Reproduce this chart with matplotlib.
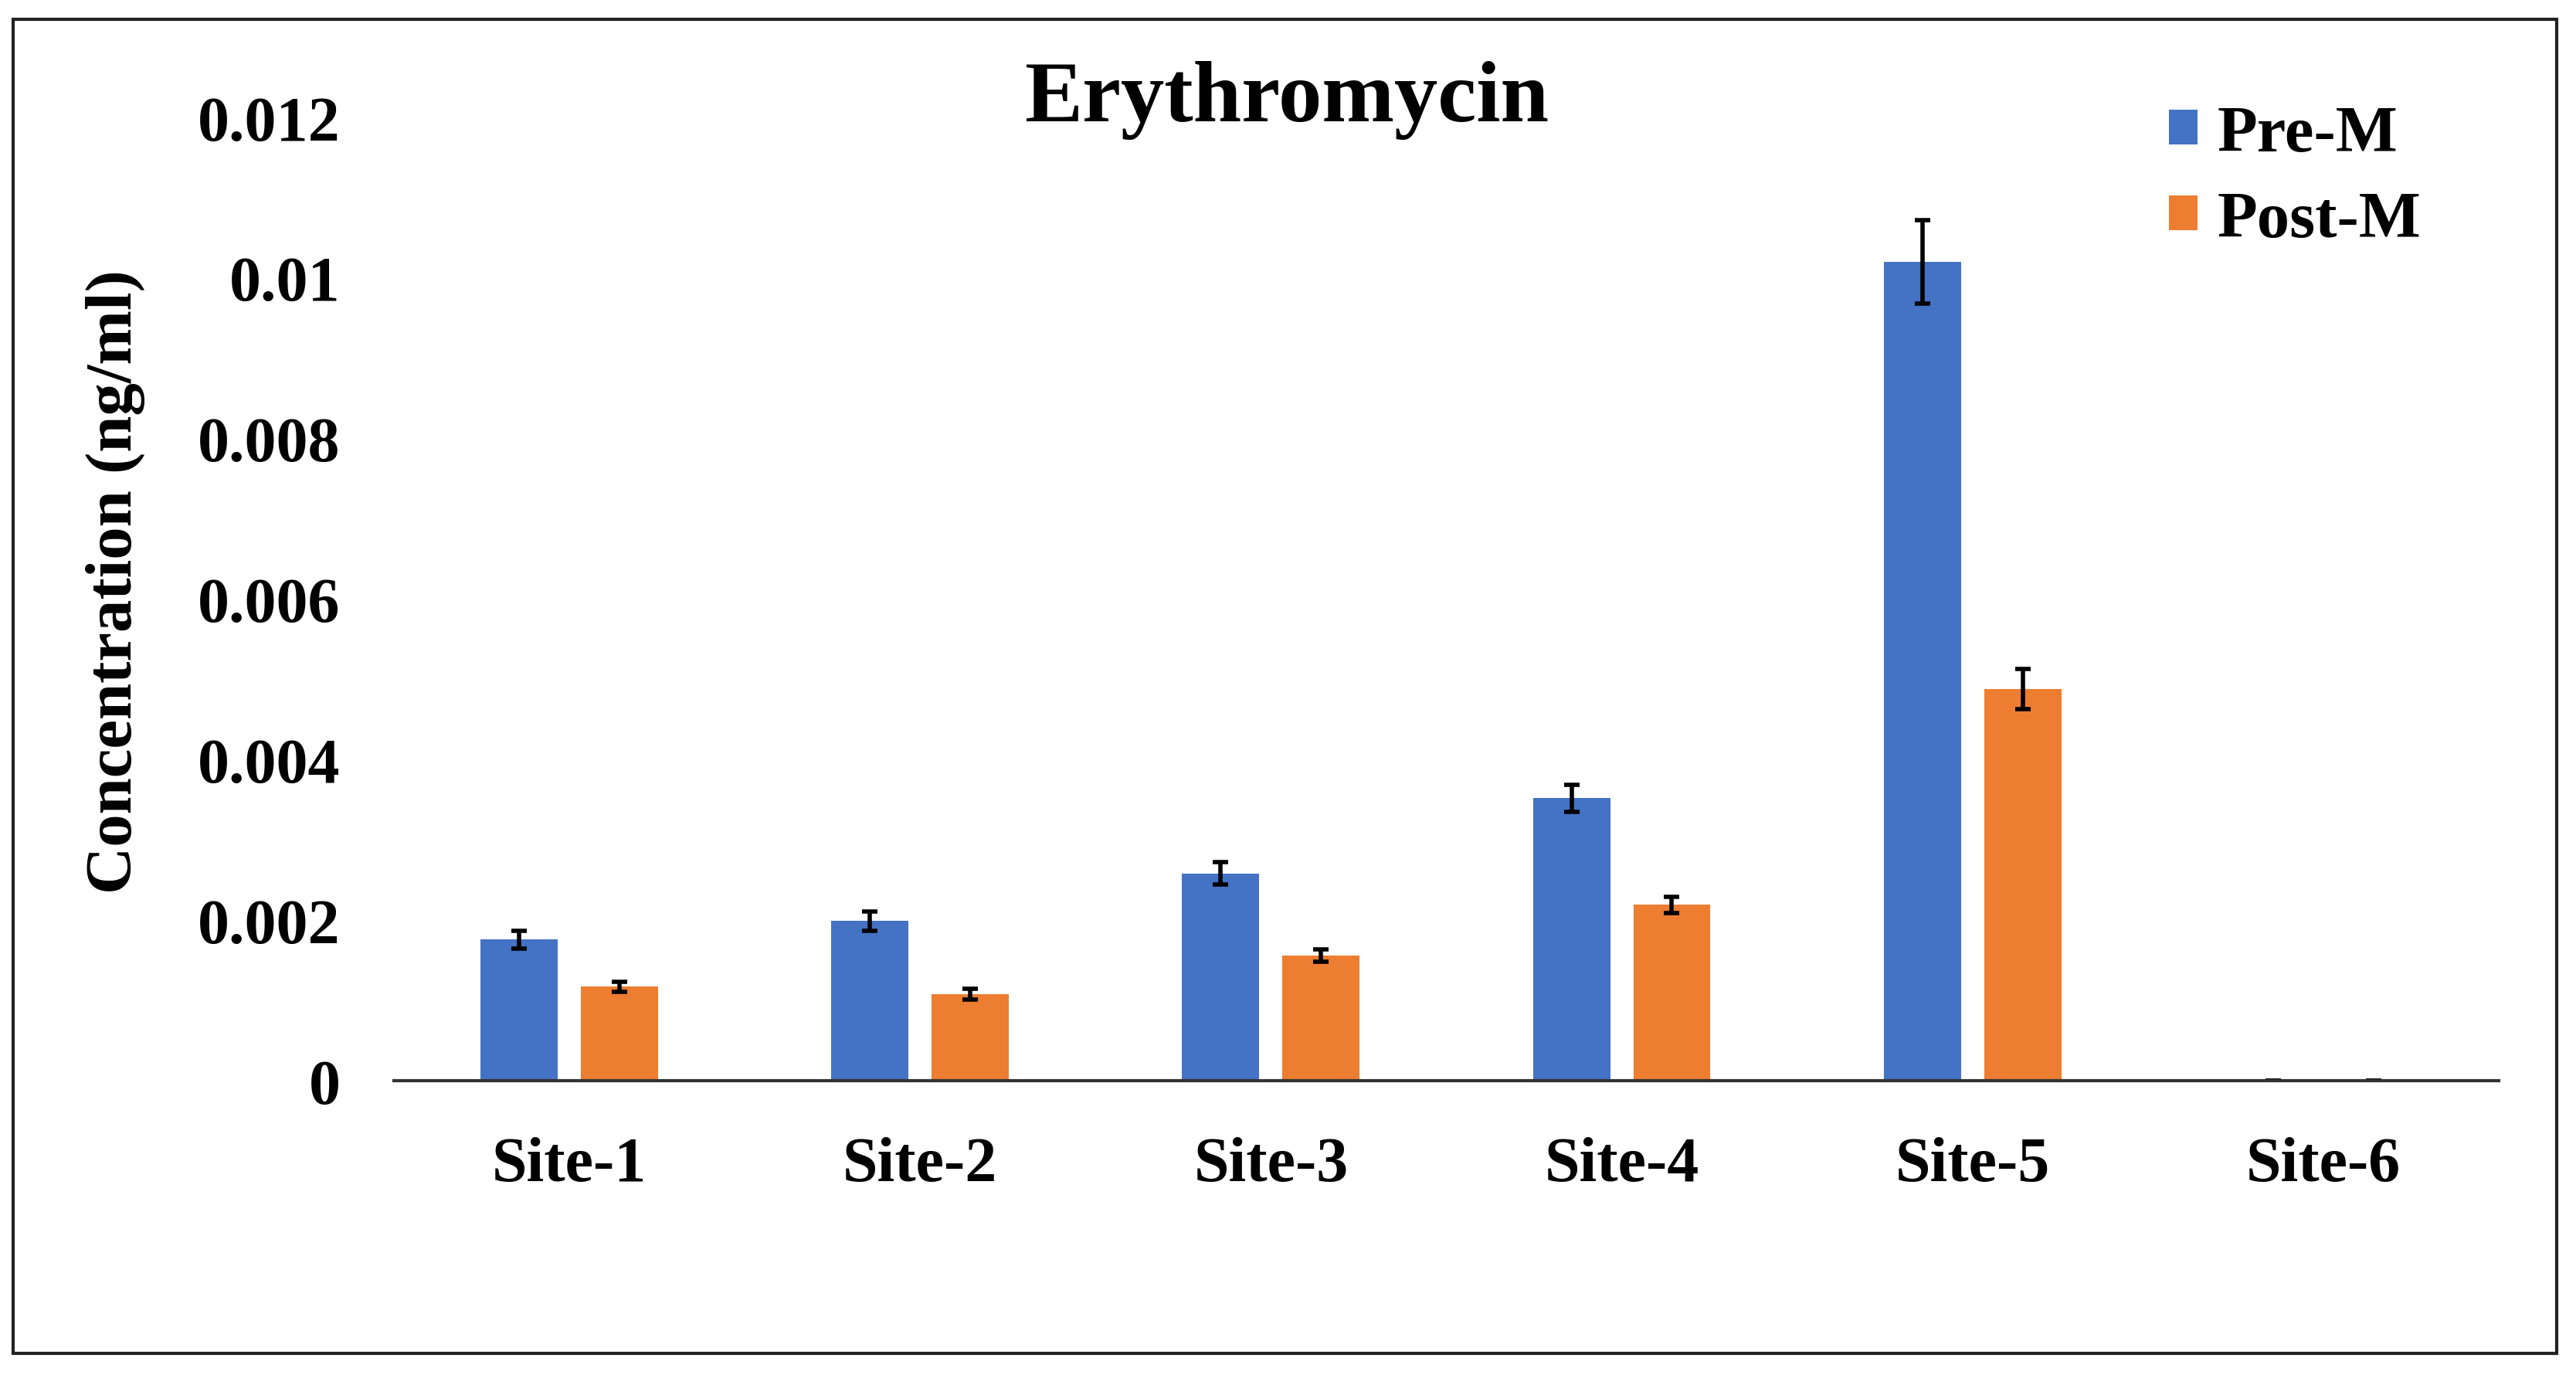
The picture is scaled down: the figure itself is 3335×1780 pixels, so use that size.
import numpy as np
import matplotlib.pyplot as plt
from matplotlib.patches import Rectangle

sites = ['Site-1', 'Site-2', 'Site-3', 'Site-4', 'Site-5', 'Site-6']
pre_m = [0.00176, 0.00199, 0.00258, 0.00352, 0.0102, 0.0]
post_m = [0.00117, 0.00108, 0.00156, 0.00219, 0.00488, 0.0]
pre_err = [0.00011, 0.00012, 0.00014, 0.00017, 0.00052, 0.0]
post_err = [0.00006, 0.00007, 0.00008, 0.00010, 0.00025, 0.0]
yticks = [0, 0.002, 0.004, 0.006, 0.008, 0.01, 0.012]
ytick_labels = ['0', '0.002', '0.004', '0.006', '0.008', '0.01', '0.012']

blue = '#4472C4'
orange = '#ED7D31'

plt.rcParams['font.family'] = ['Liberation Serif', 'DejaVu Serif']
plt.rcParams['font.weight'] = 'bold'

fig = plt.figure(figsize=(33.35, 17.81), dpi=100)
ax = fig.add_axes([0.1529, 0.2139, 0.8171, 0.7002])

x = np.arange(len(sites))
w = 0.22       ## bar width
off = 0.143    ## offset of each bar from the category centre

ekw = dict(elinewidth=4, capthick=4, ecolor='black')
ax.bar(x - off, pre_m, w, color=blue, label='Pre-M',
       yerr=pre_err, capsize=7.5, error_kw=ekw)
ax.bar(x + off, post_m, w, color=orange, label='Post-M',
       yerr=post_err, capsize=7.5, error_kw=ekw)

ax.set_xlim(-0.5, len(sites) - 0.5)
ax.set_ylim(0, 0.012)
ax.set_yticks(yticks)
ax.set_yticklabels(ytick_labels)
ax.set_xticks(x)
ax.set_xticklabels(sites)
ax.tick_params(axis='y', length=0, pad=50, labelsize=59)
ax.tick_params(axis='x', length=0, pad=52, labelsize=59)
for lab in ax.get_xticklabels() + ax.get_yticklabels():
    lab.set_fontweight('bold')

for s in ['top', 'right', 'left']:
    ax.spines[s].set_visible(False)
ax.spines['bottom'].set_color('#333333')
ax.spines['bottom'].set_linewidth(3)

fig.text(0.0447, 0.577, 'Concentration (ng/ml)', rotation=90, fontsize=61,
         fontweight='bold', ha='center', va='center')
fig.text(0.4993, 0.927, 'Erythromycin', fontsize=81, fontweight='bold',
         ha='center', va='center')

fig.legend(loc='upper left', bbox_to_anchor=(0.842, 0.923), frameon=False,
           prop={'weight': 'bold', 'size': 61},
           handlelength=0.44, handleheight=0.44, handletextpad=0.3,
           labelspacing=0.4, borderpad=0, borderaxespad=0)

# outer frame around the whole chart
fig.patches.append(Rectangle((0.0051, 0.0157), 0.9874, 0.9697,
                             transform=fig.transFigure, fill=False,
                             edgecolor='#222222', linewidth=3))

fig.savefig('out.png', dpi=100)
